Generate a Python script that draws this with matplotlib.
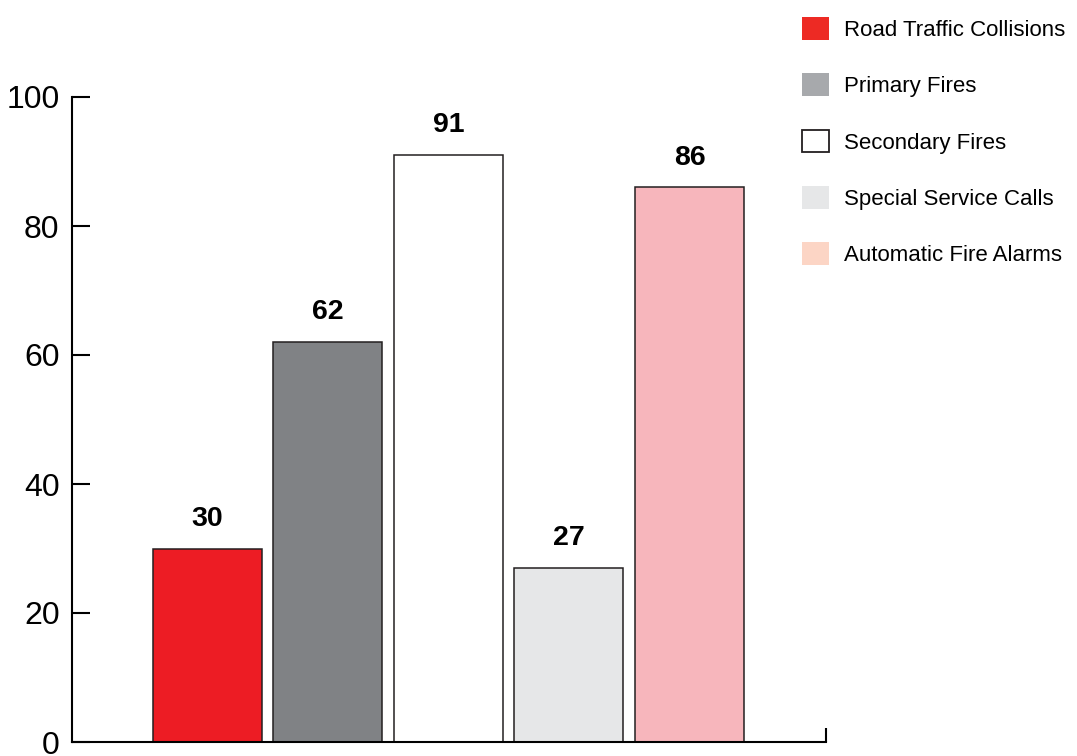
import matplotlib
matplotlib.use('Agg')
import matplotlib.pyplot as plt
from matplotlib.patches import Patch

plt.rcParams['font.family'] = ['Liberation Sans', 'DejaVu Sans']

categories = ['Road Traffic Collisions', 'Primary Fires', 'Secondary Fires',
              'Special Service Calls', 'Automatic Fire Alarms']
values = [30, 62, 91, 27, 86]
bar_colors = ['#ED1C24', '#808285', '#FFFFFF', '#E6E7E8', '#F7B6BC']
legend_colors = ['#ED2A24', '#A7A9AC', '#FFFFFF', '#E6E7E8', '#FCD5C5']
legend_edges = ['none', 'none', '#231F20', 'none', 'none']
yticks = [0, 20, 40, 60, 80, 100]

fig = plt.figure(figsize=(10.77, 7.56), dpi=100)
ax = fig.add_axes([72 / 1077, 1 - 742 / 756, (826 - 72) / 1077, (742 - 97) / 756])

x = list(range(len(values)))
ax.bar(x, values, width=0.905, color=bar_colors, edgecolor='#231F20', linewidth=1.1)
for xi, v in zip(x, values):
    ax.annotate(str(v), (xi, v), xytext=(0, 12), textcoords='offset points',
                ha='center', va='bottom', fontsize=20.5, fontweight='bold', color='#000000')

ax.set_xlim(-1.124, 5.133)
ax.set_ylim(0, 100)
ax.set_yticks(yticks)
ax.set_xticks([5.133])
ax.set_xticklabels([''])
ax.tick_params(axis='y', direction='in', length=13, width=1.5, labelsize=23, pad=9)
ax.tick_params(axis='x', direction='in', length=10, width=1.5)
for s in ['top', 'right']:
    ax.spines[s].set_visible(False)
for s in ['left', 'bottom']:
    ax.spines[s].set_linewidth(1.5)
    ax.spines[s].set_color('#000000')

# legend swatches use slightly different tints than the bars
handles = [Patch(facecolor=c, edgecolor=e, linewidth=1.3) for c, e in zip(legend_colors, legend_edges)]
fig.legend(handles, categories, loc='upper left', bbox_to_anchor=(802 / 1077, 1 - 17 / 756),
           frameon=False, fontsize=16, borderpad=0, borderaxespad=0,
           handlelength=1.2, handleheight=1.2, handletextpad=0.7, labelspacing=1.46)

fig.savefig('out.png', dpi=100)
